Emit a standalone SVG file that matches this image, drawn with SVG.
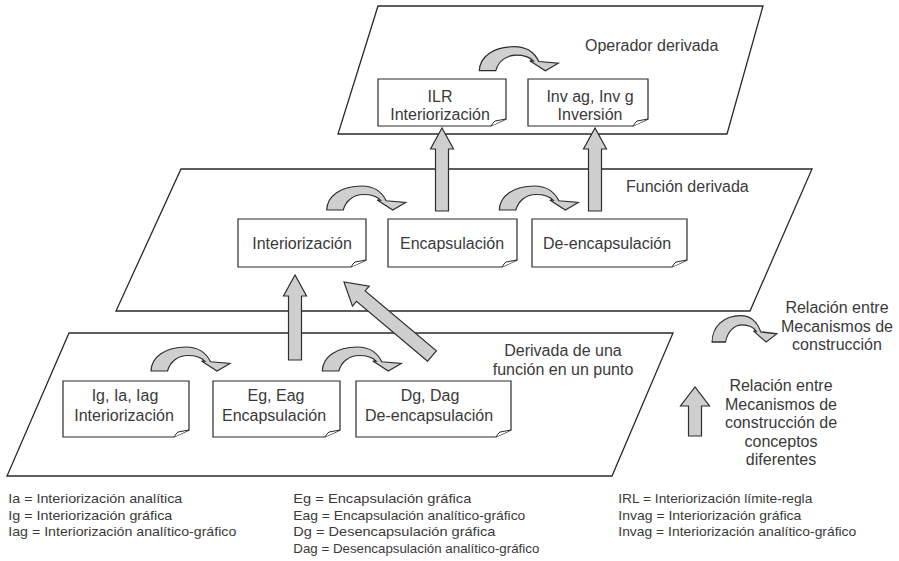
<svg xmlns="http://www.w3.org/2000/svg" width="899" height="561" viewBox="0 0 899 561">
<defs>
<style>
.plane{fill:#fff;stroke:#2a2a2a;stroke-width:1.3}
.box{fill:#fff;stroke:#2a2a2a;stroke-width:1.2}
.fold{fill:#fff;stroke:#2a2a2a;stroke-width:1}
.t{font-family:"Liberation Sans",Arial,sans-serif;font-size:16px;fill:#3a3a3a;text-anchor:middle}
.tl{font-family:"Liberation Sans",Arial,sans-serif;font-size:16px;fill:#3a3a3a}
.lg{font-family:"Liberation Sans",Arial,sans-serif;font-size:13px;fill:#3a3a3a}
.arr{fill:#cfcfcf;stroke:#2e2e2e;stroke-width:1.2;stroke-linejoin:miter}
</style>
<path id="curv" d="M0,0 C0.5,-14 14,-24 35,-24 C47,-24 55,-18.5 59.5,-9.2 L79,-7.5 L66,0 L50.5,-10 L54,-9.7 C50.5,-13.5 44,-15.5 37,-15.5 C27,-15.5 19,-9.5 16.5,0 Z"/>
</defs>

<g id="plane-operador">
<polygon class="plane" points="378,6 763,6 727,134 338,134"/>
<text class="tl" x="585" y="51">Operador derivada</text>
</g>
<g id="plane-funcion">
<polygon class="plane" points="181,169 812,169 750,311 116,311"/>
<text class="tl" x="626" y="192">Función derivada</text>
</g>
<g id="plane-punto">
<polygon class="plane" points="69,333 673,333 612,476 7,476"/>
<text class="t" x="563" y="356">Derivada de una</text>
<text class="t" x="563" y="375">función en un punto</text>
</g>

<g id="node-ilr">
<path class="box" d="M378,79 H506 V119 L491,126 H378 Z"/>
<path class="fold" d="M506,119 L495,121 Q493,122.5 491,126"/>
<text class="t" x="440" y="101.5">ILR</text>
<text class="t" x="440" y="119.5">Interiorización</text>
</g>
<g id="node-inv">
<path class="box" d="M528,79 H648 V119 L633,126 H528 Z"/>
<path class="fold" d="M648,119 L637,121 Q635,122.5 633,126"/>
<text class="t" x="590" y="101.5">Inv ag, Inv g</text>
<text class="t" x="590" y="119.5">Inversión</text>
</g>

<g id="node-interiorizacion">
<path class="box" d="M238,219 H366 V260 L351,267 H238 Z"/>
<path class="fold" d="M366,260 L355,262 Q353,263.5 351,267"/>
<text class="t" x="302" y="249">Interiorización</text>
</g>
<g id="node-encapsulacion">
<path class="box" d="M388,219 H517 V260 L502,267 H388 Z"/>
<path class="fold" d="M517,260 L506,262 Q504,263.5 502,267"/>
<text class="t" x="452" y="249">Encapsulación</text>
</g>
<g id="node-deencapsulacion">
<path class="box" d="M532,219 H687 V260 L672,267 H532 Z"/>
<path class="fold" d="M687,260 L676,262 Q674,263.5 672,267"/>
<text class="t" x="607" y="249">De-encapsulación</text>
</g>

<g id="node-ig">
<path class="box" d="M63,381 H189 V430 L174,437 H63 Z"/>
<path class="fold" d="M189,430 L178,432 Q176,433.5 174,437"/>
<text class="t" x="125" y="401">Ig, Ia, Iag</text>
<text class="t" x="124" y="421">Interiorización</text>
</g>
<g id="node-eg">
<path class="box" d="M213,381 H340 V430 L325,437 H213 Z"/>
<path class="fold" d="M340,430 L329,432 Q327,433.5 325,437"/>
<text class="t" x="276" y="401">Eg, Eag</text>
<text class="t" x="274" y="421">Encapsulación</text>
</g>
<g id="node-dg">
<path class="box" d="M356,381 H511 V430 L496,437 H356 Z"/>
<path class="fold" d="M511,430 L500,432 Q498,433.5 496,437"/>
<text class="t" x="430" y="401">Dg, Dag</text>
<text class="t" x="429" y="421">De-encapsulación</text>
</g>

<g id="connectors">
<use href="#curv" class="arr" transform="translate(479.3,70.7)"/>
<use href="#curv" class="arr" transform="translate(326.7,210)"/>
<use href="#curv" class="arr" transform="translate(499.3,210)"/>
<use href="#curv" class="arr" transform="translate(151,371)"/>
<use href="#curv" class="arr" transform="translate(322.3,371)"/>
<polygon class="arr" points="288.5,360 288.5,296 283.5,296 295,275 306.5,296 301.5,296 301.5,360"/>
<polygon class="arr" points="435.5,211 435.5,149 430.5,149 442,128 453.5,149 448.5,149 448.5,211"/>
<polygon class="arr" points="588.5,211 588.5,149 583.5,149 595,128 606.5,149 601.5,149 601.5,211"/>
<polygon class="arr" transform="translate(432,356) rotate(-139.94)" points="0,-6.8 93,-6.8 93,-13 115,0 93,13 93,6.8 0,6.8"/>
</g>

<g id="legend-relacion">
<use href="#curv" class="arr" transform="translate(712,342) scale(0.82,1.1)"/>
<text class="t" x="837" y="313">Relación entre</text>
<text class="t" x="837" y="331.5">Mecanismos de</text>
<text class="t" x="837" y="350">construcción</text>
</g>
<g id="legend-conceptos">
<polygon class="arr" points="688.5,436 688.5,406 680.5,406 695,387 709.5,406 701.5,406 701.5,436"/>
<text class="t" x="781" y="391">Relación entre</text>
<text class="t" x="781" y="409.5">Mecanismos de</text>
<text class="t" x="781" y="428">construcción de</text>
<text class="t" x="781" y="446.5">conceptos</text>
<text class="t" x="781" y="465">diferentes</text>
</g>

<g id="abbreviations">
<text class="lg" x="8.3" y="503" textLength="174" lengthAdjust="spacingAndGlyphs">Ia = Interiorización analítica</text>
<text class="lg" x="8.3" y="519.5" textLength="164" lengthAdjust="spacingAndGlyphs">Ig = Interiorización gráfica</text>
<text class="lg" x="8.3" y="536" textLength="228" lengthAdjust="spacingAndGlyphs">Iag = Interiorización analítico-gráfico</text>
<text class="lg" x="293.3" y="503" textLength="178" lengthAdjust="spacingAndGlyphs">Eg = Encapsulación gráfica</text>
<text class="lg" x="293.3" y="519.5" textLength="232" lengthAdjust="spacingAndGlyphs">Eag = Encapsulación analítico-gráfico</text>
<text class="lg" x="293.3" y="536" textLength="202" lengthAdjust="spacingAndGlyphs">Dg = Desencapsulación gráfica</text>
<text class="lg" x="293.3" y="552.5" textLength="246" lengthAdjust="spacingAndGlyphs">Dag = Desencapsulación analítico-gráfico</text>
<text class="lg" x="618.3" y="503" textLength="194" lengthAdjust="spacingAndGlyphs">IRL = Interiorización límite-regla</text>
<text class="lg" x="618.3" y="519.5" textLength="183" lengthAdjust="spacingAndGlyphs">Invag = Interiorización gráfica</text>
<text class="lg" x="618.3" y="536" textLength="238" lengthAdjust="spacingAndGlyphs">Invag = Interiorización analítico-gráfico</text>
</g>
</svg>
